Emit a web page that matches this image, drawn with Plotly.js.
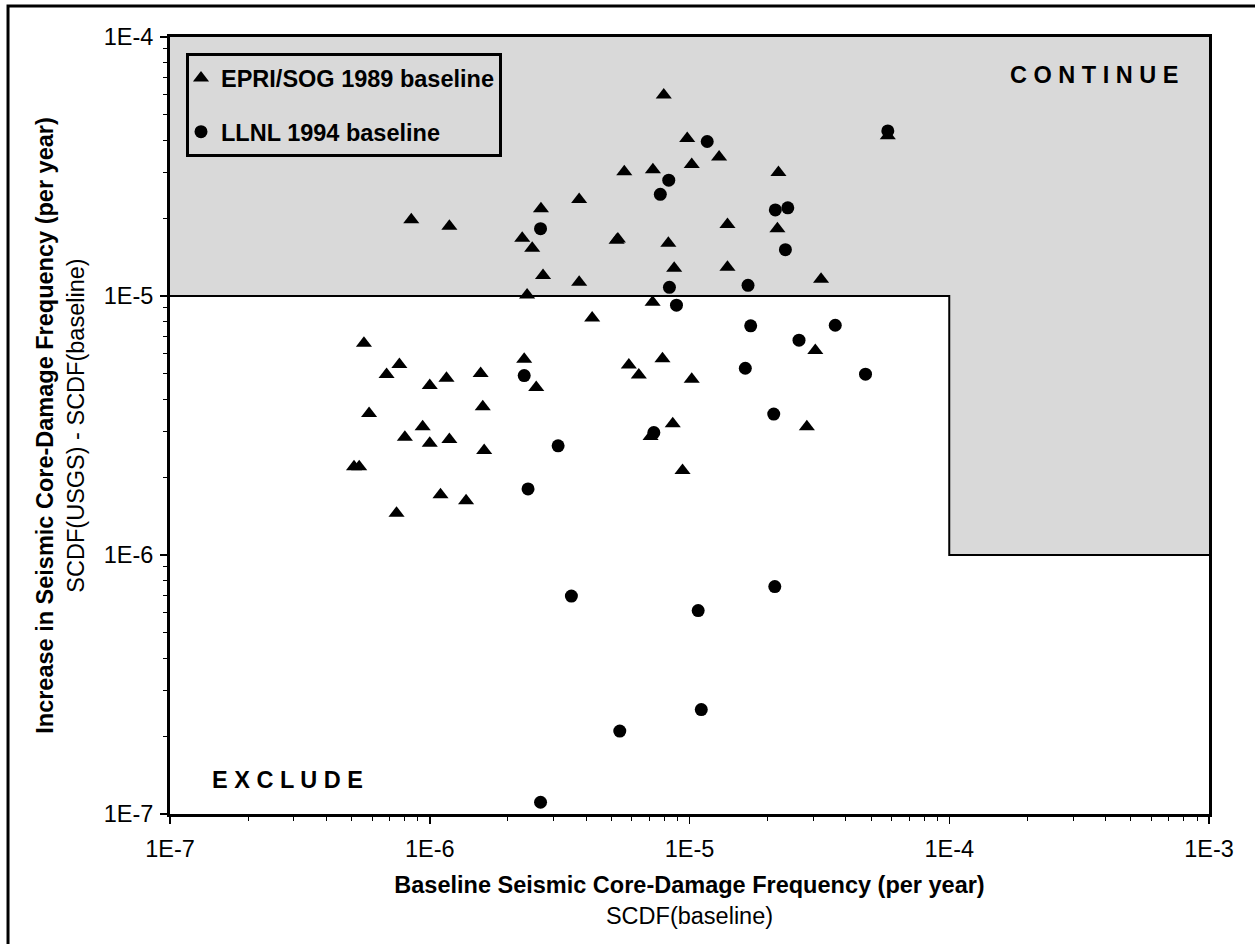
<!DOCTYPE html>
<html>
<head>
<meta charset="utf-8">
<script src="https://cdn.plot.ly/plotly-3.0.1.min.js"></script>
<style>
  html, body { margin: 0; padding: 0; background: #ffffff; }
  #chart { width: 1255px; height: 944px; }
</style>
</head>
<body>
<div id="chart"></div>
<script>
// ---- Data ----
const epriX = [8.49e-7, 1.19e-6, 2.68e-6, 2.27e-6, 2.48e-6, 2.73e-6, 2.37e-6, 3.76e-6, 3.76e-6,
  5.58e-7, 7.64e-7, 6.82e-7, 1.00e-6, 1.16e-6, 1.57e-6, 2.31e-6, 2.57e-6, 5.84e-7, 1.60e-6,
  9.39e-7, 8.02e-7, 1.00e-6, 1.19e-6, 1.62e-6, 5.11e-7, 5.35e-7, 1.10e-6, 1.38e-6, 7.45e-7,
  7.96e-6, 9.80e-6, 1.30e-5, 1.02e-5, 5.61e-6, 7.23e-6, 2.20e-5, 1.40e-5, 2.18e-5, 5.24e-6,
  5.30e-6, 8.29e-6, 8.73e-6, 1.40e-5, 3.21e-5, 7.21e-6, 4.22e-6, 3.05e-5, 5.84e-6, 7.87e-6,
  6.38e-6, 1.02e-5, 2.83e-5, 8.62e-6, 7.08e-6, 9.40e-6, 5.80e-5];
const epriY = [1.97e-5, 1.86e-5, 2.17e-5, 1.67e-5, 1.53e-5, 1.20e-5, 1.01e-5, 2.36e-5, 1.13e-5,
  6.57e-6, 5.44e-6, 4.98e-6, 4.51e-6, 4.81e-6, 5.02e-6, 5.70e-6, 4.43e-6, 3.52e-6, 3.74e-6,
  3.13e-6, 2.85e-6, 2.70e-6, 2.79e-6, 2.53e-6, 2.19e-6, 2.19e-6, 1.71e-6, 1.62e-6, 1.45e-6,
  5.97e-5, 4.06e-5, 3.44e-5, 3.22e-5, 3.02e-5, 3.07e-5, 3.00e-5, 1.89e-5, 1.82e-5, 1.64e-5,
  1.66e-5, 1.60e-5, 1.28e-5, 1.29e-5, 1.16e-5, 9.47e-6, 8.22e-6, 6.16e-6, 5.41e-6, 5.72e-6,
  4.95e-6, 4.77e-6, 3.13e-6, 3.21e-6, 2.87e-6, 2.12e-6, 4.16e-5];

const llnlX = [2.67e-6, 2.31e-6, 3.12e-6, 2.39e-6, 3.51e-6, 1.08e-5, 2.13e-5, 1.11e-5, 5.39e-6,
  2.67e-6, 1.17e-5, 8.32e-6, 7.72e-6, 2.14e-5, 2.39e-5, 2.34e-5, 8.37e-6, 1.68e-5, 8.91e-6,
  1.72e-5, 3.64e-5, 2.64e-5, 1.64e-5, 4.76e-5, 2.11e-5, 7.29e-6, 5.80e-5];
const llnlY = [1.82e-5, 4.93e-6, 2.64e-6, 1.80e-6, 6.94e-7, 6.10e-7, 7.55e-7, 2.53e-7, 2.09e-7,
  1.11e-7, 3.95e-5, 2.80e-5, 2.47e-5, 2.15e-5, 2.19e-5, 1.51e-5, 1.08e-5, 1.10e-5, 9.22e-6,
  7.67e-6, 7.71e-6, 6.75e-6, 5.26e-6, 4.99e-6, 3.50e-6, 2.97e-6, 4.34e-5];

// Screening region ("CONTINUE" area) boundary
const regionX = [1e-7, 1e-4, 1e-4, 1e-3, 1e-3, 1e-7, 1e-7];
const regionY = [1e-5, 1e-5, 1e-6, 1e-6, 1e-4, 1e-4, 1e-5];
const stepX = [1e-7, 1e-4, 1e-4, 1e-3];
const stepY = [1e-5, 1e-5, 1e-6, 1e-6];

const xTickVals = [1e-7, 1e-6, 1e-5, 1e-4, 1e-3];
const xTickText = ['1E-7', '1E-6', '1E-5', '1E-4', '1E-3'];
const yTickVals = [1e-7, 1e-6, 1e-5, 1e-4];
const yTickText = ['1E-7', '1E-6', '1E-5', '1E-4'];

const seriesNames = ['EPRI/SOG 1989 baseline', 'LLNL 1994 baseline'];

// minor tick positions (2..9 within each decade)
function minorVals(e0, e1) {
  const v = [];
  for (let e = e0; e < e1; e++) for (let m = 2; m <= 9; m++) v.push(m * Math.pow(10, e));
  return v;
}

const FONT = 'Liberation Sans, Arial, Helvetica, sans-serif';
const FS = 23.5;

const traces = [
  { x: regionX, y: regionY, type: 'scatter', mode: 'lines', fill: 'toself',
    fillcolor: '#d9d9d9', line: { width: 0, color: 'rgba(0,0,0,0)' },
    showlegend: false, hoverinfo: 'skip' },
  { x: stepX, y: stepY, type: 'scatter', mode: 'lines',
    line: { width: 2, color: '#000000' }, showlegend: false, hoverinfo: 'skip' },
  { x: epriX, y: epriY, type: 'scatter', mode: 'markers', name: seriesNames[0],
    legendgroup: 'a', cliponaxis: false,
    marker: { symbol: 'triangle-up', size: 14, color: '#000000' } },
  { x: llnlX, y: llnlY, type: 'scatter', mode: 'markers', name: seriesNames[1],
    legendgroup: 'b', cliponaxis: false,
    marker: { symbol: 'circle', size: 13, color: '#000000' } }
];

const axisCommon = {
  type: 'log', showgrid: false, zeroline: false,
  showline: true, linewidth: 3, linecolor: '#000000', mirror: true,
  ticks: 'outside', ticklen: 7, tickwidth: 1.5, tickcolor: '#000000',
  tickmode: 'array',
  tickfont: { family: FONT, size: FS, color: '#000000' }
};

const layout = {
  width: 1255, height: 944,
  paper_bgcolor: '#ffffff', plot_bgcolor: '#ffffff',
  margin: { l: 170, r: 46, t: 37, b: 130 },
  font: { family: FONT, color: '#000000' },
  showlegend: true,
  legend: {
    x: 0.0154, y: 0.979, xanchor: 'left', yanchor: 'top',
    bgcolor: 'rgba(0,0,0,0)', bordercolor: '#000000', borderwidth: 3,
    font: { family: FONT, size: FS, color: '#000000', weight: 'bold' },
    tracegroupgap: 20, indentation: -8
  },
  xaxis: Object.assign({}, axisCommon, {
    range: [-7, -3], tickvals: xTickVals, ticktext: xTickText, ticklabelstandoff: 5,
    minor: { tickvals: minorVals(-7, -3), ticks: 'outside', ticklen: 4, tickwidth: 1, tickcolor: '#000000' },
    title: { text: '<b>Baseline Seismic Core-Damage Frequency (per year)</b><br>SCDF(baseline)',
      font: { family: FONT, size: FS, color: '#000000' }, standoff: 16 }
  }),
  yaxis: Object.assign({}, axisCommon, {
    range: [-7, -4], tickvals: yTickVals, ticktext: yTickText, ticklabelstandoff: 2,
    minor: { tickvals: minorVals(-7, -4), ticks: 'outside', ticklen: 4, tickwidth: 1, tickcolor: '#000000' },
    title: { text: '<b>Increase in Seismic Core-Damage Frequency (per year)</b><br>SCDF(USGS) - SCDF(baseline)',
      font: { family: FONT, size: FS, color: '#000000' }, standoff: 13 }
  }),
  annotations: [
    { text: '<b>C O N T I N U E</b>', xref: 'paper', yref: 'paper', x: 0.9721, y: 0.951,
      xanchor: 'right', yanchor: 'middle', showarrow: false,
      font: { family: FONT, size: FS, color: '#000000' } },
    { text: '<b>E X C L U D E</b>', xref: 'paper', yref: 'paper', x: 0.0385, y: 0.0438,
      xanchor: 'left', yanchor: 'middle', showarrow: false,
      font: { family: FONT, size: FS, color: '#000000' } }
  ],
  shapes: [
    { type: 'rect', xref: 'paper', yref: 'paper', x0: -0.1559, x1: 1.06, y0: -0.19, y1: 1.0399,
      line: { color: '#000000', width: 3 }, fillcolor: 'rgba(0,0,0,0)', layer: 'above' }
  ]
};

Plotly.newPlot('chart', traces, layout, { displayModeBar: false, staticPlot: true });
</script>
</body>
</html>
